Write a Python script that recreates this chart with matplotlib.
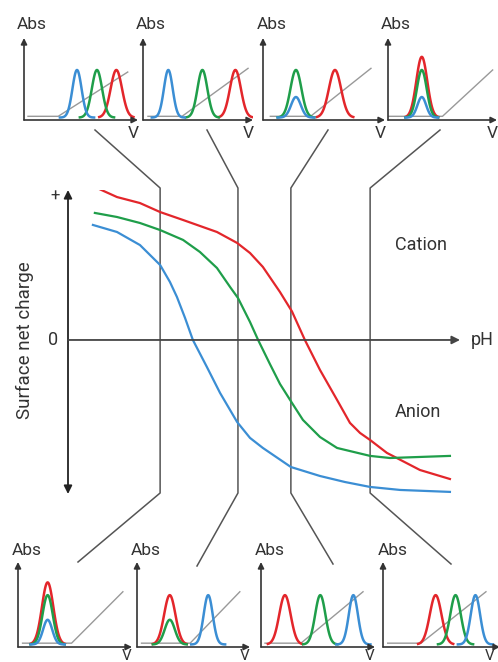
import numpy as np
import matplotlib
matplotlib.use('Agg')
import matplotlib.pyplot as plt

plt.rcParams['font.family'] = ['Roboto', 'DejaVu Sans']

W, H = 498, 662
RED, GREEN, BLUE = '#e3262b', '#1f9e4a', '#3b8ed4'
AXC = '#333333'
GRAY = '#999999'

# surface net charge vs pH
ph_red = [1.04, 1.75, 2.57, 3.29, 4.11, 5.32, 6.04, 6.50, 6.96, 7.57, 8.0, 8.46,
          9.0, 9.61, 10.07, 10.43, 10.79, 11.39, 12.57, 13.64]
q_red = [1.013, 0.953, 0.913, 0.853, 0.80, 0.72, 0.647, 0.58, 0.487, 0.32, 0.19, 0.0,
         -0.20, -0.40, -0.553, -0.62, -0.667, -0.753, -0.867, -0.927]

ph_green = [0.96, 1.75, 2.57, 3.29, 4.11, 4.71, 5.32, 5.79, 6.07, 6.50, 6.79, 7.21,
            7.57, 8.0, 8.39, 9.0, 9.61, 10.79, 11.5, 12.57, 13.64]
q_green = [0.847, 0.82, 0.78, 0.733, 0.667, 0.587, 0.48, 0.353, 0.28, 0.12, 0.0, -0.16,
           -0.293, -0.42, -0.533, -0.647, -0.72, -0.773, -0.787, -0.78, -0.773]

ph_blue = [0.89, 1.75, 2.57, 3.29, 3.64, 3.89, 4.18, 4.46, 4.96, 5.43, 6.04, 6.50,
           6.96, 7.96, 9.0, 9.89, 10.79, 11.86, 13.64]
q_blue = [0.767, 0.72, 0.633, 0.50, 0.387, 0.287, 0.147, 0.0, -0.18, -0.353, -0.547, -0.653,
          -0.72, -0.847, -0.907, -0.947, -0.98, -1.0, -1.013]

# pH of the four sampled points (vertical lines)
sample_ph = [3.29, 6.07, 7.96, 10.79]

# voltammogram peaks, top row (position, height in panel units)
top_red_pos = [0.81, 0.84, 0.59, 0.31]
top_red_h = [0.58, 0.58, 0.58, 0.74]
top_green_pos = [0.64, 0.54, 0.27, 0.31]
top_green_h = [0.58, 0.58, 0.58, 0.58]
top_blue_pos = [0.465, 0.23, 0.27, 0.31]
top_blue_h = [0.58, 0.58, 0.25, 0.25]
# grey background line: start, knee, end x and end y
top_bg_start = [0.035, 0.045, 0.06, 0.0]
top_bg_knee = [0.30, 0.355, 0.39, 0.50]
top_bg_end = [0.91, 0.955, 0.885, 0.96]
top_bg_endy = [0.585, 0.63, 0.63, 0.61]

# bottom row
bot_red_pos = [0.26, 0.29, 0.21, 0.45]
bot_red_h = [0.73, 0.58, 0.58, 0.58]
bot_green_pos = [0.26, 0.29, 0.52, 0.62]
bot_green_h = [0.58, 0.29, 0.58, 0.58]
bot_blue_pos = [0.26, 0.63, 0.81, 0.79]
bot_blue_h = [0.29, 0.58, 0.58, 0.58]
bot_bg_start = [0.04, 0.04, 0.035, 0.04]
bot_bg_knee = [0.47, 0.47, 0.35, 0.325]
bot_bg_end = [0.92, 0.91, 0.895, 0.88]
bot_bg_endy = [0.65, 0.65, 0.65, 0.65]

fig = plt.figure(figsize=(W / 100, H / 100), dpi=100)

# overlay for connector lines (pixel coords)
ov = fig.add_axes([0, 0, 1, 1], zorder=0)
ov.set_xlim(0, W)
ov.set_ylim(H, 0)
ov.axis('off')

# main chart
ax = fig.add_axes([68 / W, 1 - 494 / H, 392 / W, 304 / H], zorder=2)
ax.set_xlim(0, 14)
ax.set_ylim(-1.027, 1.0)
ax.axis('off')
ax.patch.set_alpha(0)

ax.plot(ph_red, q_red, color=RED, lw=1.6, solid_joinstyle='round')
ax.plot(ph_green, q_green, color=GREEN, lw=1.6, solid_joinstyle='round')
ax.plot(ph_blue, q_blue, color=BLUE, lw=1.6, solid_joinstyle='round')

ax.annotate('', xy=(0, 1.0), xytext=(0, -1.027), annotation_clip=False,
            arrowprops=dict(arrowstyle='<|-|>', color='#222222', lw=1.3,
                            mutation_scale=12, shrinkA=0, shrinkB=0))
ax.annotate('', xy=(14, 0), xytext=(0, 0), annotation_clip=False,
            arrowprops=dict(arrowstyle='-|>', color='#444444', lw=1.3,
                            mutation_scale=12, shrinkA=0, shrinkB=0))
ax.text(-0.3, 0.96, '+', ha='right', va='center', fontsize=12, color='#333333')
ax.text(-0.35, 0.0, '0', ha='right', va='center', fontsize=13, color='#333333')
ax.text(14.4, 0.0, 'pH', ha='left', va='center', fontsize=13, color='#333333')
ax.text(12.6, 0.63, 'Cation', ha='center', va='center', fontsize=13, color='#333333')
ax.text(12.5, -0.48, 'Anion', ha='center', va='center', fontsize=13, color='#333333')
fig.text(25 / W, 1 - 340 / H, 'Surface net charge', rotation=90, ha='center',
         va='center', fontsize=13.5, color='#333333')

# connectors: top end, vertical section at sample pH, bottom end
top_ends = [95, 207, 328, 440]
bot_ends = [(78, 562), (197, 566), (333, 564), (451, 564)]
for i, ph in enumerate(sample_ph):
    xd = ax.transData.transform((ph, 0))[0]
    xs = [top_ends[i], xd, xd, bot_ends[i][0]]
    ys = [130, 188, 493, bot_ends[i][1]]
    ov.plot(xs, ys, color='#555555', lw=1.1)


def panel(ox, oy, w, h, reds, greens, blues, bg):
    pa = fig.add_axes([ox / W, 1 - oy / H, w / W, h / H], zorder=3)
    pa.set_xlim(0, 1)
    pa.set_ylim(0, 1)
    pa.axis('off')
    pa.patch.set_alpha(0)
    s, k, e, ey = bg
    pa.plot([s, k, e], [0.045, 0.045, ey], color=GRAY, lw=1.0, zorder=1)
    for (c, hh), col, sig in ((reds, RED, 0.05), (greens, GREEN, 0.045), (blues, BLUE, 0.04)):
        x = np.linspace(c - 0.15, c + 0.15, 120)
        y = 0.03 + hh * np.exp(-0.5 * ((x - c) / sig) ** 2)
        pa.plot(x, y, color=col, lw=1.8, zorder=2)
    pa.annotate('', xy=(1, 0), xytext=(0, 0), annotation_clip=False,
                arrowprops=dict(arrowstyle='-|>', color=AXC, lw=1.2,
                                mutation_scale=9, shrinkA=0, shrinkB=0))
    pa.annotate('', xy=(0, 1), xytext=(0, 0), annotation_clip=False,
                arrowprops=dict(arrowstyle='-|>', color=AXC, lw=1.2,
                                mutation_scale=9, shrinkA=0, shrinkB=0))
    return pa


top_panels = [(24, 114), (143, 110), (263, 122), (388, 109)]
for i, (ox, w) in enumerate(top_panels):
    pa = panel(ox, 120, w, 82,
               (top_red_pos[i], top_red_h[i]), (top_green_pos[i], top_green_h[i]),
               (top_blue_pos[i], top_blue_h[i]),
               (top_bg_start[i], top_bg_knee[i], top_bg_end[i], top_bg_endy[i]))
    pa.text(0.07, 1.16, 'Abs', ha='center', va='center', fontsize=12.5, color='#333333')
    pa.text(1 - 5 / w, -0.17, 'V', ha='center', va='center', fontsize=12.5, color='#333333')

bot_panels = [(18, 114), (137, 113), (261, 114), (383, 117)]
for i, (ox, w) in enumerate(bot_panels):
    pa = panel(ox, 647, w, 85,
               (bot_red_pos[i], bot_red_h[i]), (bot_green_pos[i], bot_green_h[i]),
               (bot_blue_pos[i], bot_blue_h[i]),
               (bot_bg_start[i], bot_bg_knee[i], bot_bg_end[i], bot_bg_endy[i]))
    pa.text(0.08, 1.13, 'Abs', ha='center', va='center', fontsize=12.5, color='#333333')
    pa.text(min(1 - 5 / w, (W - 8 - ox) / w), -0.15, 'V', ha='center', va='baseline',
            fontsize=11, color='#333333')

fig.savefig('out.png', dpi=100)
